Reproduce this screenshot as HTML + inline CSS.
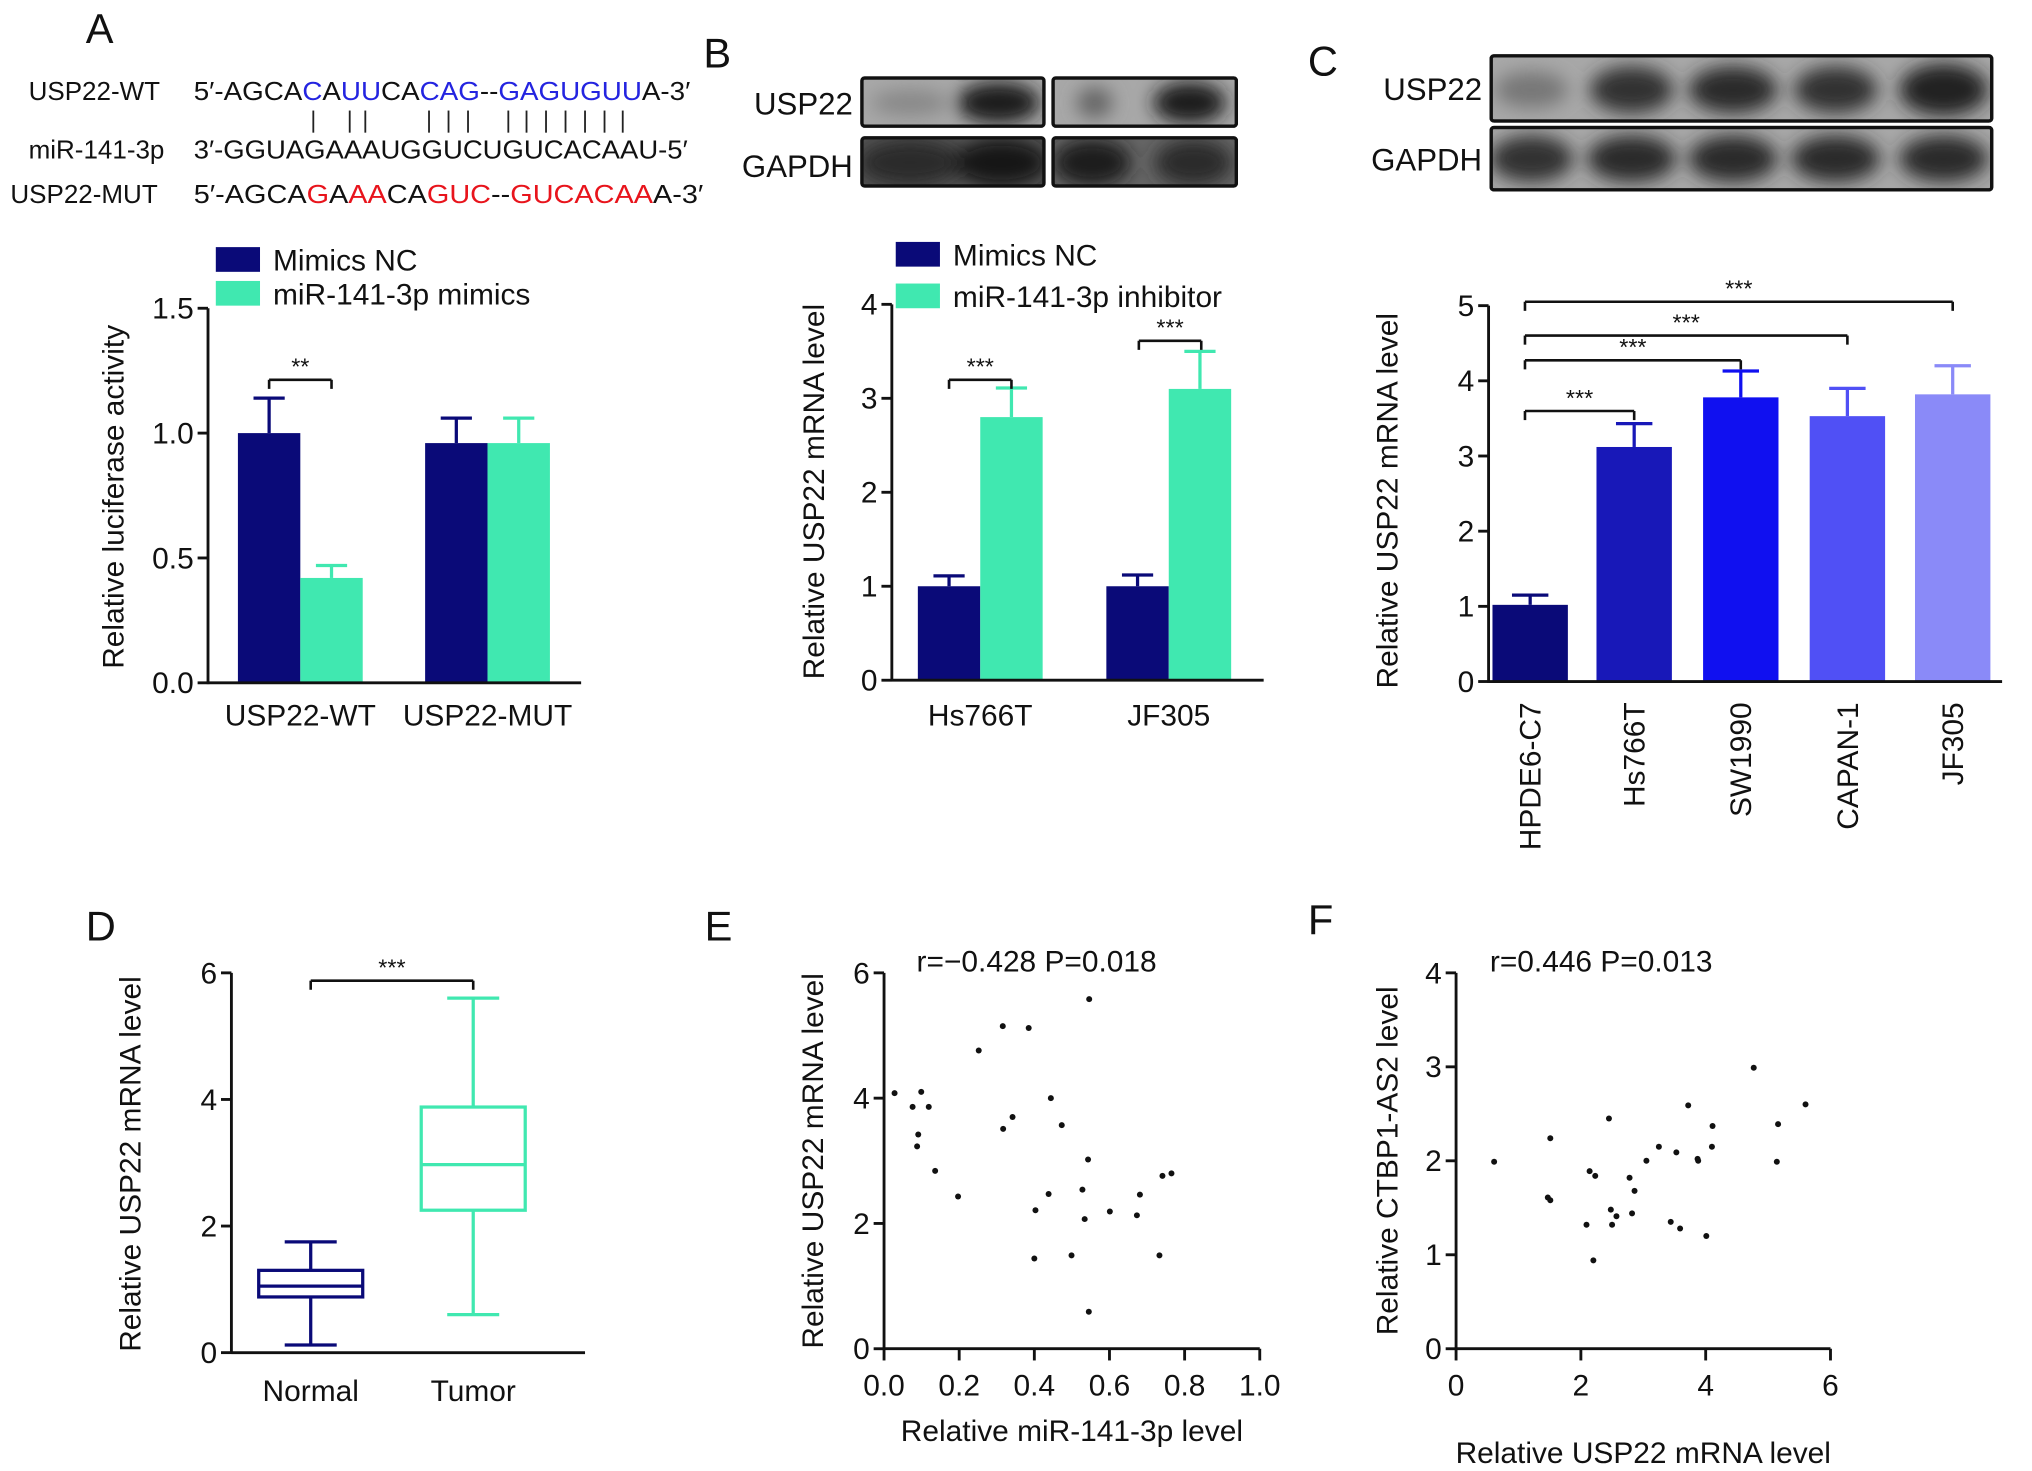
<!DOCTYPE html>
<html><head><meta charset="utf-8"><style>
html,body{margin:0;padding:0;background:#fff}
svg{display:block;font-family:"Liberation Sans",Arial,sans-serif}
</style></head><body>
<svg id="fig" width="2032" height="1471" viewBox="0 0 1563 1131" preserveAspectRatio="none" xmlns="http://www.w3.org/2000/svg">
<defs>
<filter id="blur" x="-50%" y="-50%" width="200%" height="200%"><feGaussianBlur stdDeviation="7"/></filter>
<clipPath id="cb1"><rect x="663" y="60" width="140" height="37"/></clipPath>
<clipPath id="cb2"><rect x="810" y="60" width="141" height="37"/></clipPath>
<clipPath id="cb3"><rect x="663" y="106" width="140" height="37"/></clipPath>
<clipPath id="cb4"><rect x="810" y="106" width="141" height="37"/></clipPath>
<clipPath id="cc1"><rect x="1147" y="43" width="385" height="50"/></clipPath>
<clipPath id="cc2"><rect x="1147" y="98" width="385" height="48"/></clipPath>
</defs>
<g id="root" font-size="23" fill="#111"></g>
</svg>
<script>
// ---------- DATA ----------
const aGroups = ["USP22-WT","USP22-MUT"];
const aNC = [1.0, 0.96];
const aMim = [0.42, 0.96];
const aNCerr = [0.14, 0.10];
const aMimErr = [0.05, 0.10];
const aTicks = ["0.0","0.5","1.0","1.5"];

const bGroups = ["Hs766T","JF305"];
const bNC = [1.0, 1.0];
const bInh = [2.8, 3.1];
const bNCerr = [0.11, 0.12];
const bInhErr = [0.31, 0.40];
const bTicks = ["0","1","2","3","4"];

const cCats = ["HPDE6-C7","Hs766T","SW1990","CAPAN-1","JF305"];
const cVals = [1.02, 3.12, 3.78, 3.53, 3.82];
const cErr = [0.13, 0.31, 0.35, 0.37, 0.38];
const cTicks = ["0","1","2","3","4","5"];

const dCats = ["Normal","Tumor"];
const dMin = [0.12, 0.6];
const dQ1 = [0.88, 2.25];
const dMed = [1.05, 2.97];
const dQ3 = [1.3, 3.88];
const dMax = [1.75, 5.6];
const dTicks = ["0","2","4","6"];

const eX = [0.028,0.099,0.076,0.119,0.091,0.088,0.136,0.197,0.252,0.316,0.385,0.317,0.342,0.444,0.473,0.546,0.543,0.438,0.403,0.400,0.499,0.528,0.534,0.601,0.681,0.673,0.741,0.765,0.733,0.545];
const eY = [4.08,4.10,3.86,3.86,3.42,3.23,2.84,2.43,4.76,5.15,5.12,3.51,3.70,4.0,3.57,5.58,3.02,2.47,2.21,1.44,1.49,2.54,2.07,2.19,2.46,2.13,2.76,2.80,1.49,0.59];
const eXTicks = ["0.0","0.2","0.4","0.6","0.8","1.0"];
const eYTicks = ["0","2","4","6"];

const fX = [0.61,1.51,1.47,1.51,2.14,2.23,2.09,2.20,2.45,2.48,2.57,2.50,2.78,2.86,2.82,3.05,3.25,3.53,3.44,3.59,3.72,3.87,3.88,4.10,4.11,4.01,4.77,5.16,5.14,5.60];
const fY = [1.99,2.24,1.61,1.58,1.89,1.84,1.32,0.94,2.45,1.48,1.41,1.32,1.82,1.68,1.44,2.0,2.15,2.09,1.35,1.28,2.59,2.02,2.0,2.15,2.37,1.20,2.99,2.39,1.99,2.60];
const fXTicks = ["0","2","4","6"];
const fYTicks = ["0","1","2","3","4"];

// ---------- helpers ----------
const NS="http://www.w3.org/2000/svg";
const root=document.getElementById('root');
function el(tag,attrs,parent,text){const e=document.createElementNS(NS,tag);for(const k in attrs)e.setAttribute(k,attrs[k]);if(text!==undefined)e.textContent=text;(parent||root).appendChild(e);return e;}
function grp(name){const g=el('g',{});return g;}
const NAVY="#0a0a78", GREEN="#40e8b0";
function line(g,x1,y1,x2,y2,c,w){return el('line',{x1,y1,x2,y2,stroke:c||'#111','stroke-width':w||2.2},g);}
function yAxis(g,x,y0,y1,ticks){
  line(g,x,y0+1,x,y1);
  ticks.forEach((t,i)=>{const y=y0-(y0-y1)*i/(ticks.length-1);line(g,x-8,y,x,y);
    const tx=el('text',{x:x-11,y:y+8,'text-anchor':'end'},g,t);
    });
}
function yTitle(g,x,y,t){const e=el('text',{x,y,'text-anchor':'middle',transform:`rotate(-90 ${x} ${y})`},g,t);
  }
function errBar(g,x,yTop,yBase,c,hw){line(g,x,yBase,x,yTop,c,2.5);line(g,x-hw,yTop,x+hw,yTop,c,2.5);}
function bracket(g,x1,x2,y,stars){line(g,x1,y+7,x1,y,'#111',2);line(g,x1,y,x2,y,'#111',2);line(g,x2,y,x2,y+7,'#111',2);
  const s=el('text',{x:(x1+x2)/2,y:y-4,'text-anchor':'middle','font-size':18},g,stars);
  }
function letter(x,y,t){const e=el('text',{x,y,'font-size':32},root,t);}
function legend(g,x,y,c,t){const r=el('rect',{x,y,width:34,height:19,fill:c},g);
  const tx=el('text',{x:x+44,y:y+18},g,t);}

letter(66,33,'A');letter(541,52,'B');letter(1006,58,'C');letter(66,723,'D');letter(542,723,'E');letter(1006,718,'F');

// ---------- Sequences ----------
(function(){
 const g=grp('sequence-alignment');
 const lbl=[["USP22-WT",22,77],["miR-141-3p",22,122],["USP22-MUT",8,156]];
 lbl.forEach(l=>{const t=el('text',{x:l[1],y:l[2],'font-size':20},g,l[0]);});
 function seq(y,parts,len){const t=el('text',{x:149,y,'font-size':20,textLength:len,lengthAdjust:'spacingAndGlyphs'},g);
   parts.forEach(p=>{el('tspan',{fill:p[1]},t,p[0]);});}
 const B="#2424e0",R="#e8141c",K="#111";
 seq(77,[["5′-AGCA",K],["C",B],["A",K],["UU",B],["CA",K],["CAG",B],["--",K],["GAGUGUU",B],["A-3′",K]],382);
 seq(122,[["3′-GGUAGAAAUGGUCUGUCACAAU-5′",K]],380);
 seq(156,[["5′-AGCA",K],["G",R],["A",K],["AA",R],["CA",K],["GUC",R],["--",K],["GUCACAA",R],["A-3′",K]],392);
 [241,269,281,330,345,360,391,405,420,435,450,465,479].forEach(x=>line(g,x,85,x,102,'#222',1.4));
})();

// ---------- Blots ----------
function blot(g,x,y,w,h,clip,blobs,bgc){
  el('rect',{x,y,width:w,height:h,fill:bgc||'#a8a8a8',stroke:'#111','stroke-width':2.5,rx:2},g);
  const bg=el('g',{'clip-path':`url(#${clip})`,filter:'url(#blur)'},g);
  blobs.forEach(b=>el('ellipse',{cx:b[0],cy:b[1],rx:b[2],ry:b[3],fill:b[4]},bg));
  el('rect',{x,y,width:w,height:h,fill:'none',stroke:'#111','stroke-width':2.5,rx:2},g);
}
(function(){
 const g=grp('western-blot-b');
 blot(g,663,60,140,37,'cb1',[[700,79,30,10,'#888'],[768,79,32,16,'#1a1a1a']]);
 blot(g,810,60,141,37,'cb2',[[842,79,14,12,'#666'],[915,79,28,16,'#1a1a1a']]);
 blot(g,663,106,140,37,'cb3',[[700,125,40,18,'#2a2a2a'],[770,125,36,18,'#151515']],'#555');
 blot(g,810,106,141,37,'cb4',[[840,125,30,18,'#1a1a1a'],[918,125,30,18,'#2a2a2a']],'#666');
 el('text',{x:656,y:88,'text-anchor':'end','font-size':24},g,'USP22');
 el('text',{x:656,y:136,'text-anchor':'end','font-size':24},g,'GAPDH');
 const g2=grp('western-blot-c');
 blot(g2,1147,43,385,50,'cc1',[[1178,69,28,14,'#777'],[1255,69,32,18,'#333'],[1333,69,34,18,'#2a2a2a'],[1412,69,32,18,'#333'],[1495,69,34,20,'#222']]);
 blot(g2,1147,98,385,48,'cc2',[[1178,122,32,18,'#333'],[1255,122,34,18,'#2a2a2a'],[1333,122,34,18,'#2a2a2a'],[1412,122,34,18,'#2a2a2a'],[1495,122,34,18,'#2a2a2a']]);
 el('text',{x:1140,y:77,'text-anchor':'end','font-size':24},g2,'USP22');
 el('text',{x:1140,y:131,'text-anchor':'end','font-size':24},g2,'GAPDH');
})();

// ---------- Panel A ----------
(function(){
 const g=grp('chart-a');
 const x0=160,y0=525,y1=237,max=1.5; const sy=v=>y0-(y0-y1)*v/max;
 const gx=[183,327], bw=48;
 aGroups.forEach((name,i)=>{
  errBar(g,gx[i]+bw/2,sy(aNC[i]+aNCerr[i]),sy(aNC[i]),NAVY,12);
  errBar(g,gx[i]+bw*1.5,sy(aMim[i]+aMimErr[i]),sy(aMim[i]),GREEN,12);
  const r1=el('rect',{x:gx[i],y:sy(aNC[i]),width:bw,height:y0-sy(aNC[i]),fill:NAVY},g);
  
  const r2=el('rect',{x:gx[i]+bw,y:sy(aMim[i]),width:bw,height:y0-sy(aMim[i]),fill:GREEN},g);
  
  const t=el('text',{x:gx[i]+bw,y:558,'text-anchor':'middle'},g,name);
  
 });
 yAxis(g,x0,y0,y1,aTicks);line(g,x0,y0,447,y0);
 yTitle(g,95,382,'Relative luciferase activity');
 bracket(g,gx[0]+bw/2,gx[0]+bw*1.5,292,'**');
 legend(g,166,190,NAVY,'Mimics NC');legend(g,166,216,GREEN,'miR-141-3p mimics');
})();

// ---------- Panel B ----------
(function(){
 const g=grp('chart-b');
 const x0=686,y0=523,y1=234,max=4; const sy=v=>y0-(y0-y1)*v/max;
 const gx=[706,851], bw=48;
 bGroups.forEach((name,i)=>{
  errBar(g,gx[i]+bw/2,sy(bNC[i]+bNCerr[i]),sy(bNC[i]),NAVY,12);
  errBar(g,gx[i]+bw*1.5,sy(bInh[i]+bInhErr[i]),sy(bInh[i]),GREEN,12);
  const r1=el('rect',{x:gx[i],y:sy(bNC[i]),width:bw,height:y0-sy(bNC[i]),fill:NAVY},g);
  
  const r2=el('rect',{x:gx[i]+bw,y:sy(bInh[i]),width:bw,height:y0-sy(bInh[i]),fill:GREEN},g);
  
  const t=el('text',{x:gx[i]+bw,y:558,'text-anchor':'middle'},g,name);
  
 });
 yAxis(g,x0,y0,y1,bTicks);line(g,x0,y0,972,y0);
 yTitle(g,634,378,'Relative USP22 mRNA level');
 bracket(g,730,778,292,'***');bracket(g,876,924,262,'***');
 legend(g,689,186,NAVY,'Mimics NC');legend(g,689,218,GREEN,'miR-141-3p inhibitor');
})();

// ---------- Panel C ----------
(function(){
 const g=grp('chart-c');
 const x0=1145,y0=524,y1=235,max=5; const sy=v=>y0-(y0-y1)*v/max;
 const cols=["#0a0a78","#1818b8","#1010f0","#5050f5","#8a8af8"];
 const bx=[1148,1228,1310,1392,1473], bw=58;
 cCats.forEach((name,i)=>{
  errBar(g,bx[i]+bw/2,sy(cVals[i]+cErr[i]),sy(cVals[i]),cols[i],14);
  const r=el('rect',{x:bx[i],y:sy(cVals[i]),width:bw,height:y0-sy(cVals[i]),fill:cols[i]},g);
  
  const cx=bx[i]+bw/2+8;
  const t=el('text',{x:cx,y:540,'text-anchor':'end',transform:`rotate(-90 ${cx} 540)`},g,name);
  
 });
 yAxis(g,x0,y0,y1,cTicks);line(g,x0,y0,1540,y0);
 yTitle(g,1075,385,'Relative USP22 mRNA level');
 const c0=bx[0]+bw/2-4;
 bracket(g,c0,bx[1]+bw/2,316,'***');bracket(g,c0,bx[2]+bw/2,277,'***');
 bracket(g,c0,bx[3]+bw/2,258,'***');bracket(g,c0,bx[4]+bw/2,232,'***');
})();

// ---------- Panel D ----------
(function(){
 const g=grp('chart-d');
 const x0=178,y0=1040,y1=748,max=6; const sy=v=>y0-(y0-y1)*v/max;
 const cx=[239,364], hw=40, cols=[NAVY,GREEN];
 dCats.forEach((name,i)=>{
  const c=cols[i];
  line(g,cx[i],sy(dMax[i]),cx[i],sy(dQ3[i]),c,2.5);line(g,cx[i],sy(dQ1[i]),cx[i],sy(dMin[i]),c,2.5);
  line(g,cx[i]-20,sy(dMax[i]),cx[i]+20,sy(dMax[i]),c,2.5);line(g,cx[i]-20,sy(dMin[i]),cx[i]+20,sy(dMin[i]),c,2.5);
  const r=el('rect',{x:cx[i]-hw,y:sy(dQ3[i]),width:hw*2,height:sy(dQ1[i])-sy(dQ3[i]),fill:'none',stroke:c,'stroke-width':2.5},g);
  
  line(g,cx[i]-hw,sy(dMed[i]),cx[i]+hw,sy(dMed[i]),c,2.5);
  const t=el('text',{x:cx[i],y:1077,'text-anchor':'middle'},g,name);
  
 });
 yAxis(g,x0,y0,y1,dTicks);line(g,x0,y0,450,y0);
 yTitle(g,108,895,'Relative USP22 mRNA level');
 bracket(g,cx[0],cx[1],754,'***');
})();

// ---------- Scatter ----------
function scatter(name,xs,ys,x0,x1,y0,y1,xmax,ymax,xt,yt,title,ylab,ylabX,xlab,xlabY,annX){
 const g=grp(name);
 const sx=v=>x0+(x1-x0)*v/xmax, sy=v=>y0-(y0-y1)*v/ymax;
 line(g,x0,y0+1,x0,y1);line(g,x0-1,y0,x1,y0);
 yt.forEach((t,i)=>{const y=y0-(y0-y1)*i/(yt.length-1);line(g,x0-8,y,x0,y);
   const tx=el('text',{x:x0-11,y:y+8,'text-anchor':'end'},g,t);});
 xt.forEach((t,i)=>{const x=x0+(x1-x0)*i/(xt.length-1);line(g,x,y0,x,y0+9);
   const tx=el('text',{x,y:y0+36,'text-anchor':'middle'},g,t);});
 xs.forEach((v,i)=>{const c=el('circle',{cx:sx(v),cy:sy(ys[i]),r:2.3,fill:'#111'},g);
   });
 const a=el('text',{x:annX,y:y1-1},g,title);
 yTitle(g,ylabX,(y0+y1)/2,ylab);
 const xl=el('text',{x:(x0+x1)/2,y:xlabY,'text-anchor':'middle'},g,xlab);
}
scatter('chart-e',eX,eY,680,969,1037,748,1.0,6,eXTicks,eYTicks,'r=−0.428 P=0.018','Relative USP22 mRNA level',633,'Relative miR-141-3p level',1108,705);
scatter('chart-f',fX,fY,1120,1408,1037,748,6,4,fXTicks,fYTicks,'r=0.446 P=0.013','Relative CTBP1-AS2 level',1075,'Relative USP22 mRNA level',1125,1146);
</script>
</body></html>
